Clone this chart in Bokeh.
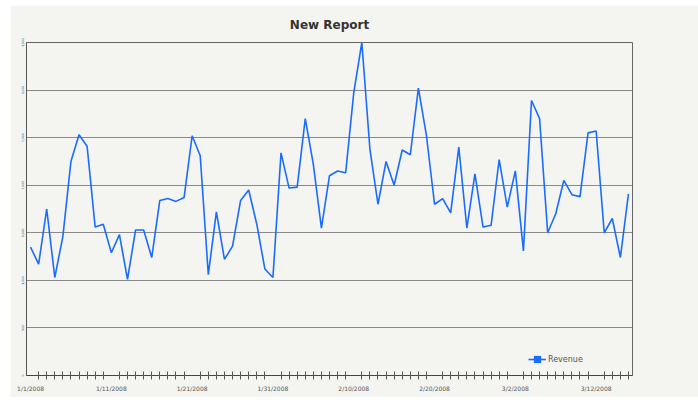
from bokeh.plotting import figure
from bokeh.models import FixedTicker, Legend, LegendItem, ColumnDataSource, Range1d
from bokeh.embed import file_html
from bokeh.resources import INLINE

# ---- data ----
x_labels = ["1/1/2008", "1/11/2008", "1/21/2008", "1/31/2008",
            "2/10/2008", "2/20/2008", "3/2/2008", "3/12/2008"]
x_label_days = [0, 10, 20, 30, 40, 50, 60, 70]
revenue = [1350, 1170, 1750, 1030, 1460, 2250, 2530, 2410, 1560, 1590,
           1290, 1480, 1010, 1530, 1530, 1240, 1840, 1860, 1830, 1870,
           2520, 2310, 1060, 1720, 1220, 1360, 1840, 1950, 1590, 1120,
           1030, 2340, 1970, 1980, 2700, 2220, 1550, 2100, 2150, 2130,
           2970, 3500, 2380, 1800, 2250, 2000, 2370, 2320, 3020, 2520,
           1800, 1860, 1710, 2400, 1550, 2120, 1560, 1580, 2270, 1770,
           2150, 1310, 2890, 2700, 1500, 1700, 2050, 1900, 1880, 2550,
           2570, 1500, 1650, 1240, 1910]
days = list(range(len(revenue)))
y_ticks = [0, 500, 1000, 1500, 2000, 2500, 3000, 3500]
y_tick_labels = ["0", "500", "1,000", "1,500", "2,000", "2,500", "3,000", "3,500"]

BG = "#f4f4f0"

p = figure(width=688, height=392, output_backend="svg", toolbar_location=None,
           x_range=Range1d(-0.5, len(revenue) - 0.5), y_range=Range1d(0, 3500),
           min_border_left=16, min_border_right=66, min_border_top=37, min_border_bottom=22,
           background_fill_color=BG, border_fill_color=BG)
p.margin = (5, 0, 0, 10)

p.title.text = "New Report"
p.title.align = "center"
p.title.text_font = "DejaVu Sans"
p.title.text_font_size = "12px"
p.title.text_font_style = "bold"
p.title.text_color = "#333333"
p.title.offset = 28
p.title.standoff = 21

src = ColumnDataSource(dict(x=days, y=revenue))
line = p.line("x", "y", source=src, line_color="#1a6cff", line_width=1.6)
marks = p.scatter("x", "y", source=src, marker="square", size=0,
                  fill_color="#1a6cff", line_color=None)

# x axis
xa = p.xaxis[0]
xa.ticker = FixedTicker(ticks=x_label_days,
                        minor_ticks=[d for d in range(1, len(revenue)) if d % 10 != 0])
xa.major_label_overrides = {d: l for d, l in zip(x_label_days, x_labels)}
xa.major_tick_in = 0
xa.major_tick_out = 0
xa.minor_tick_in = 4
xa.minor_tick_out = 4
xa.minor_tick_line_color = "#555555"
xa.axis_line_color = "#444444"
xa.major_label_text_font = "DejaVu Sans"
xa.major_label_text_font_size = "6px"
xa.major_label_text_color = "#555555"
xa.major_label_standoff = 5

# y axis
ya = p.yaxis[0]
ya.ticker = FixedTicker(ticks=y_ticks, minor_ticks=[])
ya.major_label_overrides = {v: l for v, l in zip(y_ticks, y_tick_labels)}
ya.major_tick_in = 0
ya.major_tick_out = 0
ya.axis_line_color = "#555555"
ya.major_label_orientation = "vertical"
ya.major_label_text_font = "DejaVu Sans"
ya.major_label_text_font_size = "3px"
ya.major_label_text_color = "#444444"
ya.major_label_standoff = 3

p.xgrid.grid_line_color = None
p.ygrid.grid_line_color = "#8a8a8a"
p.ygrid.ticker = FixedTicker(ticks=y_ticks)
p.outline_line_color = "#666666"

legend = Legend(items=[LegendItem(label="Revenue", renderers=[line, marks])],
                location=(502, 6), orientation="horizontal",
                background_fill_alpha=0, border_line_color=None,
                padding=0, margin=0, glyph_width=18, glyph_height=20,
                label_text_font="DejaVu Sans", label_text_font_size="8px",
                label_text_color="#555555", label_standoff=2)
p.add_layout(legend)

open("out.html", "w").write(file_html(p, INLINE))
